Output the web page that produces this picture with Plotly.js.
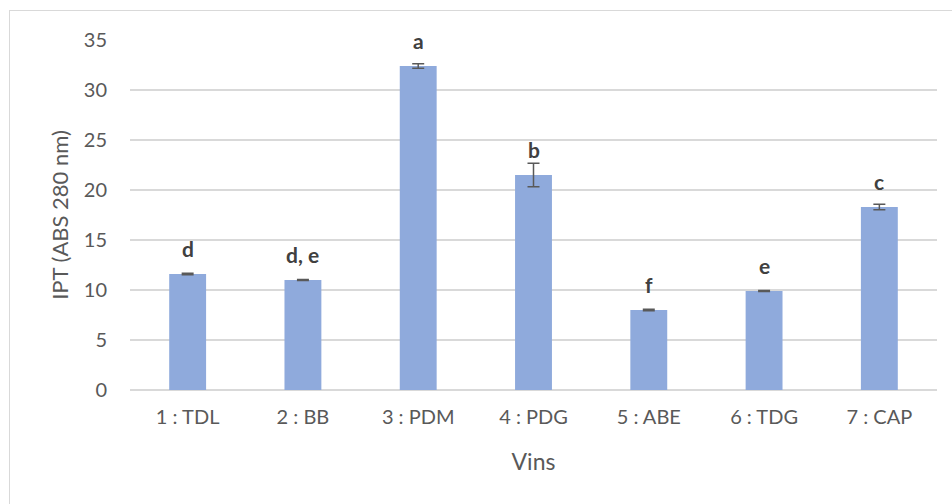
<!DOCTYPE html>
<html>
<head>
<meta charset="utf-8">
<script src="https://cdn.plot.ly/plotly-3.0.1.min.js"></script>
<style>
  html, body { margin: 0; padding: 0; background: #fff; overflow: hidden; }
  #chart { position: absolute; left: 0; top: 0; width: 952px; height: 504px; }
  #frame { position: absolute; left: 9px; top: 10px; width: 960px; height: 520px;
           border: 1px solid #d9d9d9; pointer-events: none; }
</style>
</head>
<body>
<div id="chart"></div>
<div id="frame"></div>
<script>
// Wines and their IPT values (ABS 280 nm), with standard deviations
const categories = ['1 : TDL', '2 : BB', '3 : PDM', '4 : PDG', '5 : ABE', '6 : TDG', '7 : CAP'];
const iptValues  = [11.6, 11.0, 32.4, 21.5, 8.0, 9.9, 18.3];
const iptErrors  = [0.08, 0.06, 0.22, 1.17, 0.08, 0.05, 0.28];
const groupLetters = ['d', 'd, e', 'a', 'b', 'f', 'e', 'c'];
const yTicks = [0, 5, 10, 15, 20, 25, 30, 35];

const FONT = 'Lato, "Open Sans", sans-serif';

const trace = {
  type: 'bar',
  x: categories,
  y: iptValues,
  marker: { color: '#8faadc' },
  error_y: {
    type: 'data',
    array: iptErrors,
    visible: true,
    color: '#595959',
    thickness: 1.5,
    width: 6
  },
  hoverinfo: 'skip'
};

// significance letters sit above each bar
const annotations = categories.map((c, i) => ({
  x: c,
  y: iptValues[i],
  xref: 'x',
  yref: 'y',
  text: groupLetters[i],
  showarrow: false,
  yanchor: 'bottom',
  yshift: 11,
  font: { family: FONT, size: 21, color: '#404040', weight: 'bold' }
}));

const layout = {
  width: 952,
  height: 504,
  margin: { l: 130, r: 15, t: 40, b: 114 },
  paper_bgcolor: '#ffffff',
  plot_bgcolor: '#ffffff',
  bargap: 0.68,
  showlegend: false,
  font: { family: FONT, color: '#595959', size: 20 },
  xaxis: {
    type: 'category',
    tickfont: { family: FONT, size: 20, color: '#595959' },
    ticks: '',
    ticklabelstandoff: 13,
    showline: false,
    showgrid: false,
    title: { text: 'Vins', font: { family: FONT, size: 23, color: '#595959' }, standoff: 26 }
  },
  yaxis: {
    range: [0, 35],
    tickvals: yTicks,
    ticktext: yTicks.map(String),
    tickfont: { family: FONT, size: 20, color: '#595959' },
    ticks: '',
    ticklabelstandoff: 22,
    showgrid: true,
    gridcolor: '#d9d9d9',
    gridwidth: 1.5,
    zeroline: true,
    zerolinecolor: '#d9d9d9',
    zerolinewidth: 1.5,
    showline: false,
    title: { text: 'IPT (ABS 280 nm)', font: { family: FONT, size: 22, color: '#595959' }, standoff: 9 }
  },
  annotations: annotations
};

Plotly.newPlot('chart', [trace], layout, { staticPlot: true, displayModeBar: false });
</script>
</body>
</html>
